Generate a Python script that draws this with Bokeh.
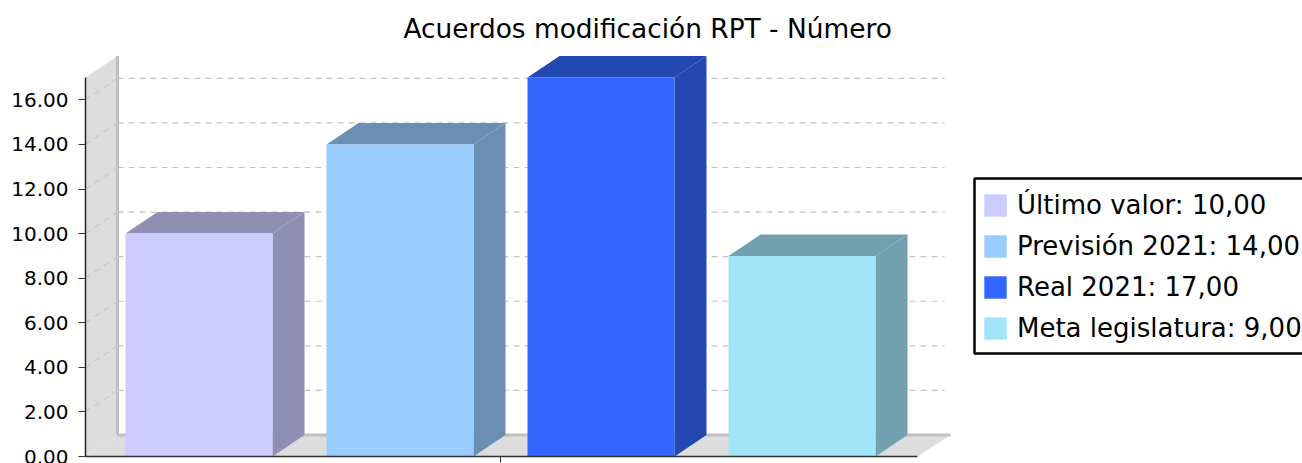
from bokeh.plotting import figure
from bokeh.embed import file_html
from bokeh.resources import INLINE
from bokeh.models import Range1d, LinearAxis, FixedTicker, Legend, LegendItem, NumeralTickFormatter, Title, BoxAnnotation

TITLE = "Acuerdos modificación RPT - Número"
categories = ["Último valor", "Previsión 2021", "Real 2021", "Meta legislatura"]
values = [10, 14, 17, 9]
value_labels = ["10,00", "14,00", "17,00", "9,00"]
y_ticks = [0, 2, 4, 6, 8, 10, 12, 14, 16]
front_colors = ["#CCCCFF", "#99CCFF", "#3366FF", "#A3E5F8"]
dark_colors = ["#8F8FB3", "#6B8FB3", "#2348B2", "#72A0AE"]

FONT = "DejaVu Sans"
PX_X = 201.0      # pixels per category
PX_Y = 22.29      # pixels per value unit
DX = 32 / PX_X    # 3D depth
DY = 21.5 / PX_Y
BAR_W = 147 / PX_X
LEFT, RIGHT = 85, 1302
TOP, BOTTOM = 50, 456
X0 = 198.5        # page x of the first bar centre
x_start = (LEFT - X0) / PX_X
x_end = (RIGHT - X0) / PX_X
y_end = (BOTTOM - TOP) / PX_Y
axis_end_x = (917 - X0) / PX_X
floor_end_x = (950 - X0) / PX_X
grid_end_x = (944 - X0) / PX_X
ymax = max(values)

p = figure(width=1302, height=463, output_backend="svg", toolbar_location=None,
           x_range=Range1d(x_start, x_end), y_range=Range1d(0, y_end),
           x_axis_type=None, y_axis_type=None,
           min_border_left=LEFT, min_border_right=0,
           min_border_top=TOP, min_border_bottom=463 - BOTTOM,
           outline_line_color=None, background_fill_color="white", border_fill_color="white")
p.grid.visible = False

t = Title(text=TITLE, text_font=FONT, text_font_size="26.4px", text_font_style="normal",
          text_color="black", align="left", offset=318, standoff=13)
p.add_layout(t, "above")

yaxis = LinearAxis(ticker=FixedTicker(ticks=y_ticks), bounds=(0, ymax),
                   formatter=NumeralTickFormatter(format="0.00"),
                   axis_line_color="#222222", axis_line_width=1.5,
                   major_tick_line_color="#333333", major_tick_out=7, major_tick_in=0,
                   minor_tick_line_color=None, major_label_standoff=10,
                   major_label_text_font=FONT, major_label_text_font_size="20px",
                   major_label_text_color="black")
xaxis = LinearAxis(ticker=FixedTicker(ticks=[1.5]), bounds=(x_start, axis_end_x),
                   major_label_overrides={1.5: ""}, major_label_text_font_size="0px",
                   major_label_standoff=0,
                   axis_line_color="#333333", axis_line_width=1.5,
                   major_tick_line_color="#333333", major_tick_out=6, major_tick_in=0,
                   minor_tick_line_color=None)
p.add_layout(yaxis, "left")
p.add_layout(xaxis, "below")

wall_x = x_start + DX
# left wall and floor
p.patch([x_start, wall_x, wall_x, x_start], [0, DY, ymax + DY, ymax], fill_color="#DDDDDD", line_color=None)
p.patch([x_start, wall_x, floor_end_x, axis_end_x], [0, DY, DY, 0], fill_color="#DDDDDD", line_color=None)
p.line([wall_x, wall_x], [DY, ymax + DY], line_color="#C0C0C0", line_width=3)
p.line([wall_x, floor_end_x], [DY, DY], line_color="#C0C0C0", line_width=3)

# grid lines, on the left wall and on the back wall
for v in y_ticks[1:]:
    p.line([x_start, wall_x], [v, v + DY], line_color="#C8C8C8", line_width=1.2, line_dash="6 5")
    p.line([wall_x, grid_end_x], [v + DY, v + DY], line_color="#C4C4C4", line_width=1.2, line_dash="6 5")

# bars
items = []
for i, v in enumerate(values):
    l, r = i - BAR_W / 2, i + BAR_W / 2
    p.patch([r, r + DX, r + DX, r], [0, DY, v + DY, v], fill_color=dark_colors[i], line_color=None)
    p.patch([l, r, r + DX, l + DX], [v, v, v + DY, v + DY], fill_color=dark_colors[i], line_color=None)
    front = p.vbar(x=[i], top=[v], bottom=[0], width=BAR_W, fill_color=front_colors[i], line_color=None)
    items.append(LegendItem(label=f"{categories[i]}: {value_labels[i]}", renderers=[front]))

# legend frame, open at the picture's right edge
box = BoxAnnotation(left=974, right=1330, top=178, bottom=353,
                    left_units="canvas", right_units="canvas", top_units="canvas", bottom_units="canvas",
                    fill_color="white", fill_alpha=1, line_color="black", line_width=2.5, line_alpha=1)
p.add_layout(box)

legend = Legend(items=items, location=(981 - LEFT, BOTTOM - 343), orientation="vertical",
                border_line_color=None, background_fill_alpha=0,
                padding=0, margin=0, spacing=11, glyph_width=28, glyph_height=28,
                label_height=28, label_standoff=8,
                label_text_font=FONT, label_text_font_size="26px", label_text_color="black")
p.add_layout(legend, "center")

open("out.html", "w").write(file_html(p, INLINE))
